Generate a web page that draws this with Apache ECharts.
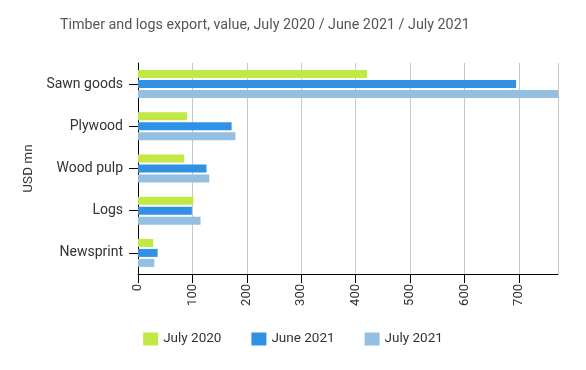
<!DOCTYPE html>
<html><head><meta charset="utf-8">
<script src="https://cdn.jsdelivr.net/npm/echarts@6/dist/echarts.min.js"></script>
<style>html,body{margin:0;padding:0;background:#fff}#c{width:586px;height:370px}</style>
</head><body><div id="c"></div>
<script>
const categories = ["Sawn goods", "Plywood", "Wood pulp", "Logs", "Newsprint"];
const july2020 = [421, 90, 85, 102, 28];
const june2021 = [695, 172, 126, 99, 36];
const july2021 = [772, 179, 131, 115, 30];
const seriesNames = ["July 2020", "June 2021", "July 2021"];
const colors = ["#c2e844", "#3191e3", "#94bfe1"];

const chart = echarts.init(document.getElementById('c'), null, {renderer: 'canvas'});
const font = 'Roboto';
chart.setOption({
  animation: false,
  color: colors,
  textStyle: {fontFamily: font},
  title: {
    text: 'Timber and logs export, value, July 2020 / June 2021 / July 2021',
    left: 55, top: 13,
    textStyle: {fontFamily: font, fontSize: 14.3, fontWeight: 'normal', color: '#555'}
  },
  legend: {
    bottom: 19, left: 'center',
    itemWidth: 15, itemHeight: 13, itemGap: 30,
    icon: 'rect',
    textStyle: {fontFamily: font, fontSize: 13.5, color: '#333'},
    data: seriesNames
  },
  grid: {left: 138, right: 28, top: 63, bottom: 96},
  xAxis: {
    type: 'value', min: 0, max: 772, interval: 100,
    axisLine: {show: true, lineStyle: {color: '#000'}},
    axisTick: {show: true, length: 9, lineStyle: {color: '#000'}},
    axisLabel: {rotate: 90, fontSize: 13, color: '#333', showMaxLabel: false, margin: 10, fontFamily: font},
    splitLine: {show: true, lineStyle: {color: '#c8c8c8'}}
  },
  yAxis: {
    type: 'category', data: categories, inverse: true,
    name: 'USD mn', nameLocation: 'middle', nameGap: 95,
    nameTextStyle: {fontSize: 13.5, color: '#333', fontFamily: font},
    axisLine: {show: true, lineStyle: {color: '#000'}},
    axisTick: {show: true, alignWithLabel: true, length: 9, lineStyle: {color: '#000'}},
    axisLabel: {fontSize: 14, color: '#333', margin: 15, fontFamily: font},
    splitLine: {show: false}
  },
  series: [
    {name: seriesNames[0], type: 'bar', data: july2020, barWidth: 8, barGap: '25%'},
    {name: seriesNames[1], type: 'bar', data: june2021, barWidth: 8, barGap: '25%'},
    {name: seriesNames[2], type: 'bar', data: july2021, barWidth: 8, barGap: '25%'}
  ]
});
</script></body></html>
